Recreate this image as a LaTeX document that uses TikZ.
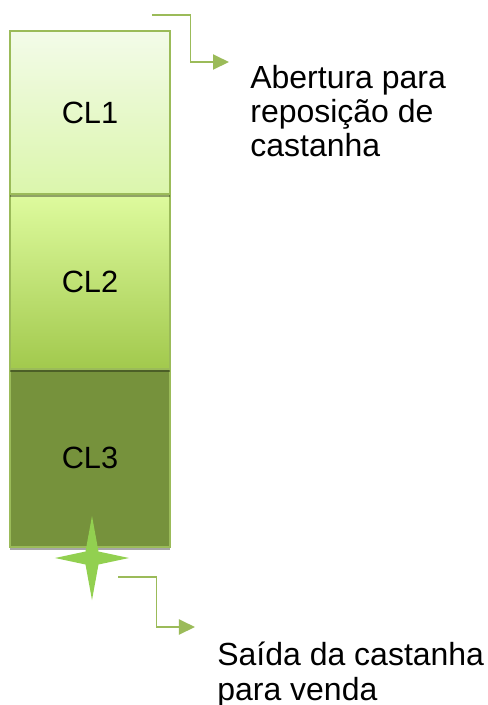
\documentclass[tikz,border=0pt]{standalone}
\usepackage{fontspec}
\setmainfont{Liberation Sans}
\usepackage{tikz}
\usetikzlibrary{calc,arrows.meta,positioning,shadows}
\definecolor{rimgreen}{RGB}{155,187,89}
\definecolor{paleTop}{RGB}{243,251,233}
\definecolor{paleBot}{RGB}{219,246,172}
\definecolor{limeTop}{RGB}{222,251,158}
\definecolor{limeBot}{RGB}{162,201,77}
\definecolor{oliveFill}{RGB}{118,146,60}
\definecolor{starGreen}{RGB}{146,208,80}
\tikzset{
  cell/.style={rectangle, draw=rimgreen, line width=1pt, minimum width=32mm,
               inner sep=0pt, font=\fontsize{17.5}{20}\selectfont,
               drop shadow={shadow xshift=0pt, shadow yshift=-1.6pt,
                            fill=black, opacity=0.35}},
  cellA/.style={cell, minimum height=32.6mm, top color=paleTop, bottom color=paleBot},
  cellB/.style={cell, minimum height=35mm, top color=limeTop, bottom color=limeBot},
  cellC/.style={cell, minimum height=35.6mm, fill=oliveFill},
  note/.style={align=left, inner sep=0pt, anchor=north west,
               font=\fontsize{18.2}{19.6}\selectfont},
  feed/.style={-{Triangle[length=3.2mm, width=3mm]}, line width=1.1pt, rimgreen},
}

\begin{document}
\begin{tikzpicture}
  \useasboundingbox (0,0) rectangle (9.76,-14.1);

  % --- the three chambers, bottom one first ---------------------------------
  \node[cellC] (cl3) at (1.8,-9.16) {CL3};
  \node[cellB] (cl2) at (1.8,-5.63) {CL2};
  \node[cellA] (cl1) at (1.8,-2.25) {CL1};

  % --- the outlet star --------------------------------------------------------
  \begin{scope}[shift={(1.84,-11.16)}]
    \fill[starGreen] (0,0.84) -- (0.13,0.13) -- (0.74,0) -- (0.13,-0.13)
      -- (0,-0.84) -- (-0.13,-0.13) -- (-0.74,0) -- (-0.13,0.13) -- cycle;
  \end{scope}

  % --- the notes --------------------------------------------------------------
  \node[note] (refill) at (5.0,-1.29) {Abertura para\\reposição de\\castanha};
  \node[note] (sale) at (4.34,-12.84) {Saída da castanha\\para venda};

  % --- the feed arrows --------------------------------------------------------
  \coordinate (topin)  at (3.04,-0.30);
  \coordinate (topout) at (4.58,-1.24);
  \draw[feed] (topin) -| ($(topin)!0.5!(topout)$) |- (topout);

  \coordinate (botin)  at (2.36,-11.54);
  \coordinate (botout) at (3.90,-12.54);
  \draw[feed] (botin) -| ($(botin)!0.5!(botout)$) |- (botout);
\end{tikzpicture}
\end{document}
